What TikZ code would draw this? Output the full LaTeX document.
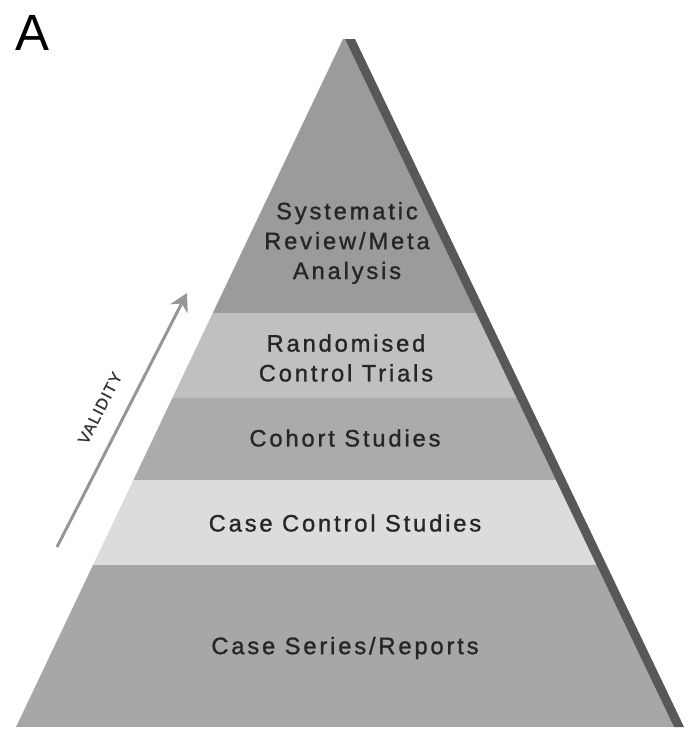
\documentclass[tikz,border=0pt]{standalone}
\usepackage{fontspec}
\setmainfont{Liberation Sans}
\usetikzlibrary{arrows.meta}
\begin{document}
\begin{tikzpicture}[x=0.02cm, y=-0.02cm,
    layertext/.style={align=center, text=black!85,
        font={\fontsize{13.5}{17}\selectfont\addfontfeature{LetterSpace=12,FakeBold=1.2}}}]
    \definecolor{pyrTop}{RGB}{155,155,155}
    \definecolor{pyrRct}{RGB}{192,192,192}
    \definecolor{pyrCoh}{RGB}{171,171,171}
    \definecolor{pyrCc}{RGB}{220,220,220}
    \definecolor{pyrCs}{RGB}{167,167,167}
    \definecolor{pyrEdge}{RGB}{88,88,88}
    \definecolor{myArrow}{RGB}{150,150,150}

    \useasboundingbox (0,0) rectangle (688,738);

    % layers of the pyramid
    \begin{scope}
        \clip (343,39) -- (345,39) -- (674,727) -- (16,727) -- cycle;
        \fill[pyrTop] (0,30) rectangle (688,313);
        \fill[pyrRct] (0,313) rectangle (688,398);
        \fill[pyrCoh] (0,398) rectangle (688,480);
        \fill[pyrCc] (0,480) rectangle (688,565);
        \fill[pyrCs] (0,565) rectangle (688,727);
    \end{scope}
    \fill[pyrEdge] (345,39) -- (355,39) -- (684,727) -- (674,727) -- cycle;

    \node[layertext] (sysrev) at (347,243) {Systematic\\Review/Meta\\Analysis};
    \node[layertext] (rct) at (346,358) {Randomised\\Control Trials};
    \node[layertext] (cohort) at (345,438) {Cohort Studies};
    \node[layertext] (casectl) at (345,523) {Case Control Studies};
    \node[layertext] (caseser) at (345,648) {Case Series/Reports};

    % validity arrow
    \coordinate (vstart) at (57,547);
    \coordinate (vend) at (187,293);
    \draw[myArrow, line width=1.7pt, -{Stealth[length=10pt, width=11pt]}] (vstart) -- (vend);
    \node[rotate=63, text=black!80,
        font={\fontsize{9}{10}\selectfont\addfontfeature{LetterSpace=8,FakeBold=1}}] (validity) at (100,408) {VALIDITY};

    \node[font=\fontsize{29}{32}\selectfont] (panel) at (32,33) {A};
\end{tikzpicture}
\end{document}
